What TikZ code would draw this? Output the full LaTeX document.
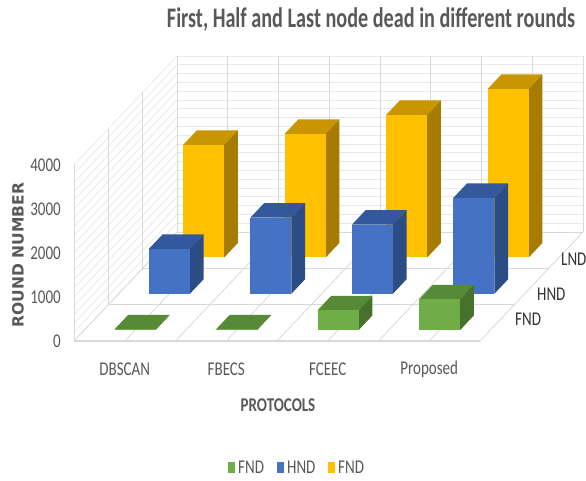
\documentclass[tikz,border=0pt]{standalone}
\usepackage{graphicx}
\usepackage{fontspec}
\setmainfont{Carlito}
\newfontfamily\dejavu{DejaVu Sans}
\definecolor{textc}{HTML}{595959}
\definecolor{gridc}{HTML}{D9D9D9}
\definecolor{gridl}{HTML}{E8E8E8}
\definecolor{gfront}{HTML}{70AD47}
\definecolor{gtop}{HTML}{578A36}
\definecolor{gside}{HTML}{47722C}
\definecolor{bfront}{HTML}{4472C4}
\definecolor{btop}{HTML}{33599C}
\definecolor{bside}{HTML}{2B4C85}
\definecolor{yfront}{HTML}{FFC000}
\definecolor{ytop}{HTML}{C99600}
\definecolor{yside}{HTML}{A67C00}
% labels are set in a slightly tall, narrow form
\newcommand\tall[2][1.3]{\scalebox{1}[#1]{#2}}
\tikzset{
  lbl/.style={text=textc, inner sep=0pt, font=\fontsize{15}{18}\selectfont},
  minor/.style={draw=gridl, line width=0.7pt},
  major/.style={draw=gridc, line width=0.8pt},
}
% one 3-D column: category, depth row, value (rounds), front/top/side colours
\newcommand\barthree[6]{%
  \pgfmathsetmacro\bxa{124.75+101.5*#1+34.33*(#2+0.3)-20.5}%
  \pgfmathsetmacro\bxb{\bxa+41}%
  \pgfmathsetmacro\byb{341-36.33*(#2+0.3)}%
  \pgfmathsetmacro\bh{max(0.044*#3,0.8)}%
  \pgfmathsetmacro\byt{\byb-\bh}%
  \fill[#5] (\bxa,\byt) -- (\bxb,\byt) -- ++(13.73,-14.53) -- ++(-41,0) -- cycle;
  \fill[#6] (\bxb,\byb) -- (\bxb,\byt) -- ++(13.73,-14.53) -- ++(0,\bh) -- cycle;
  \fill[#4] (\bxa,\byb) rectangle (\bxb,\byt);
}
\begin{document}
\begin{tikzpicture}[x=1pt, y=-1pt]
\useasboundingbox[fill=white] (0,0) rectangle (586,481);

% back wall grid
\foreach \k in {0,...,20} \draw[minor] (177,{232-8.8*\k}) -- (583,{232-8.8*\k});
\foreach \j in {0,...,8} \draw[major] ({177+50.75*\j},232) -- ({177+50.75*\j},56);
% side wall grid
\foreach \k in {0,...,20} \draw[minor] (74,{341-8.8*\k}) -- (177,{232-8.8*\k});
\foreach \k in {0,...,3} \draw[major] ({74+34.33*\k},{341-36.33*\k}) -- ({74+34.33*\k},{165-36.33*\k});
% floor grid
\foreach \j in {0,...,8} \draw[major] ({74+50.75*\j},341) -- ({177+50.75*\j},232);
\foreach \k in {0,...,3} \draw[major] ({74+34.33*\k},{341-36.33*\k}) -- ({480+34.33*\k},{341-36.33*\k});
\draw[draw=gridc, line width=1.2pt] (74,341) -- (480,341);

% LND row
\foreach \c/\v in {0/2560,1/2810,2/3240,3/3830} {\barthree{\c}{2}{\v}{yfront}{ytop}{yside}}
% HND row
\foreach \c/\v in {0/1020,1/1730,2/1570,3/2180} {\barthree{\c}{1}{\v}{bfront}{btop}{bside}}
% FND row
\foreach \c/\v in {0/0,1/0,2/450,3/700} {\barthree{\c}{0}{\v}{gfront}{gtop}{gside}}

% title
\node[lbl, font=\fontsize{20.2}{24}\selectfont\bfseries] (title) at (371,19)
  {\tall[1.4]{First, Half and Last node dead in different rounds}};

% value axis
\foreach \v [count=\n from 0] in {0,1000,2000,3000,4000}
  \node[lbl, anchor=east] (tick\n) at (61,{341-44*\n}) {\tall{\v}};
\node[text=textc, inner sep=0pt, rotate=90, font=\dejavu\fontsize{15.5}{18}\selectfont\bfseries] (ytitle) at (18,255) {ROUND NUMBER};

% category axis
\foreach \t [count=\n from 0] in {DBSCAN,FBECS,FCEEC,Proposed}
  \node[lbl] (cat\n) at ({124.75+101.5*\n},369) {\tall{\t}};
\node[lbl, font=\fontsize{15}{18}\selectfont\bfseries] (xtitle) at (278,405) {\tall{PROTOCOLS}};

% depth axis
\node[lbl, anchor=west, text=black!80] (dfnd) at (515,319) {\tall{FND}};
\node[lbl, anchor=west, text=black!80] (dhnd) at (537,294) {\tall{HND}};
\node[lbl, anchor=west, text=black!80] (dlnd) at (561,259) {\tall{LND}};

% legend
\node[fill=gfront, minimum width=7pt, minimum height=11pt, inner sep=0pt] (kg) at (231.5,467) {};
\node[lbl, anchor=west] (lg) at (238,467) {\tall{FND}};
\node[fill=bfront, minimum width=7pt, minimum height=11pt, inner sep=0pt] (kb) at (280.5,467) {};
\node[lbl, anchor=west] (lb) at (287,467) {\tall{HND}};
\node[fill=yfront, minimum width=7pt, minimum height=11pt, inner sep=0pt] (ky) at (331.5,467) {};
\node[lbl, anchor=west] (ly) at (338,467) {\tall{FND}};
\end{tikzpicture}
\end{document}
